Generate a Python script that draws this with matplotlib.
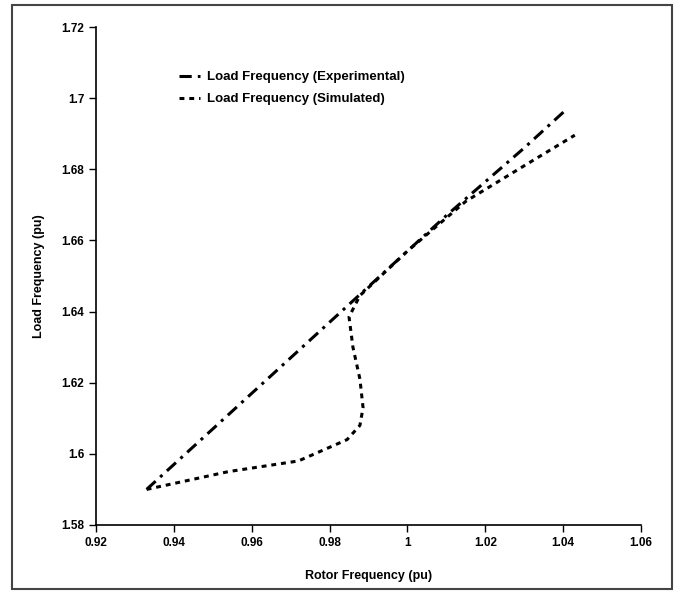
import matplotlib.pyplot as plt
from matplotlib.patches import Rectangle
from matplotlib.ticker import FuncFormatter

plt.rcParams['font.family'] = ['Liberation Sans', 'DejaVu Sans']

# experimental load frequency vs rotor frequency (pu)
exp_rotor = [0.933, 0.950, 0.970, 0.990, 1.010, 1.030, 1.041]
exp_load = [1.590, 1.607, 1.627, 1.647, 1.667, 1.686, 1.697]

# simulated load frequency
sim_rotor = [0.933, 0.954, 0.972, 0.9845, 0.9878, 0.9886, 0.9878, 0.986, 0.985,
             0.9878, 1.000, 1.015, 1.030, 1.043]
sim_load = [1.590, 1.595, 1.598, 1.604, 1.608, 1.613, 1.621, 1.630, 1.6385,
            1.6445, 1.657, 1.671, 1.681, 1.6896]

x_ticks = [0.92, 0.94, 0.96, 0.98, 1.0, 1.02, 1.04, 1.06]
y_ticks = [1.58, 1.60, 1.62, 1.64, 1.66, 1.68, 1.70, 1.72]

fig = plt.figure(figsize=(6.78, 5.94), dpi=100)
ax = fig.add_axes([0.1416, 0.1162, 0.8038, 0.8383])

ax.plot(exp_rotor, exp_load, color='black', lw=2.2, linestyle=(0, (4, 2, 1, 2)),
        label='Load Frequency (Experimental)')
ax.plot(sim_rotor, sim_load, color='black', lw=2.2, linestyle=(0, (1.6, 1.6)),
        label='Load Frequency (Simulated)')

ax.set_xlim(0.92, 1.06)
ax.set_ylim(1.58, 1.72)
ax.set_xticks(x_ticks)
ax.set_yticks(y_ticks)
fmt = FuncFormatter(lambda v, p: '%g' % round(v, 2))
ax.xaxis.set_major_formatter(fmt)
ax.yaxis.set_major_formatter(fmt)
ax.tick_params(direction='out', length=5, width=1, labelsize=8.5)
for lab in ax.get_xticklabels() + ax.get_yticklabels():
    lab.set_fontweight('bold')

ax.spines['top'].set_visible(False)
ax.spines['right'].set_visible(False)
ax.spines['left'].set_linewidth(1.2)
ax.spines['bottom'].set_linewidth(1.2)

ax.set_xlabel('Rotor Frequency (pu)', fontsize=9, fontweight='bold', labelpad=15)
ax.set_ylabel('Load Frequency (pu)', fontsize=9, fontweight='bold', labelpad=12)

ax.legend(loc='upper left', bbox_to_anchor=(0.14, 0.925), frameon=False,
          prop={'size': 9.5, 'weight': 'bold'}, handlelength=1.6, borderpad=0,
          labelspacing=0.75, handletextpad=0.5)

# outer frame around the whole picture
fig.patches.append(Rectangle((0.018, 0.008), 0.973, 0.984, transform=fig.transFigure,
                             fill=False, edgecolor='#444444', lw=1.5))

plt.savefig('out.png', dpi=100)
